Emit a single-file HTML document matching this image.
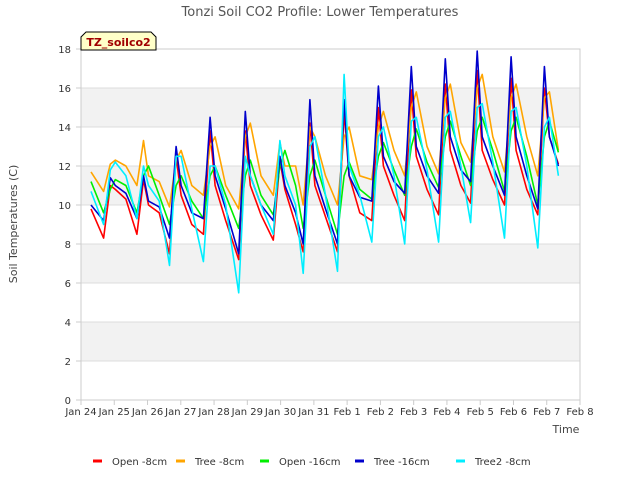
<!DOCTYPE html>
<html><head><meta charset="utf-8"><style>
body{margin:0;background:#fff;font-family:"Liberation Sans",sans-serif}
svg text{font-family:"DejaVu Sans","Liberation Sans",sans-serif}
</style></head><body>
<svg id="c" width="640" height="480" xmlns="http://www.w3.org/2000/svg">
<text x="320" y="16" text-anchor="middle" font-size="13" fill="#555">Tonzi Soil CO2 Profile: Lower Temperatures</text>
<g id="grid"></g>
<g id="series"></g>
<g id="axes"></g>
<g>
<path d="M81,50 L81,37 L86,32 L151,32 L156,37 L156,50 Z" fill="#ffffc8" stroke="#000" stroke-width="1"/>
<text x="118.5" y="46" text-anchor="middle" font-size="11" font-weight="bold" fill="#a00000">TZ_soilco2</text>
</g>
<text transform="translate(17,224) rotate(-90)" text-anchor="middle" font-size="11" fill="#444">Soil Temperatures (C)</text>
<text x="566" y="433" text-anchor="middle" font-size="11" fill="#444">Time</text>
<g id="legend"></g>
</svg>
<script>
const xLabels=["Jan 24","Jan 25","Jan 26","Jan 27","Jan 28","Jan 29","Jan 30","Jan 31","Feb 1","Feb 2","Feb 3","Feb 4","Feb 5","Feb 6","Feb 7","Feb 8"];
const yTicks=[0,2,4,6,8,10,12,14,16,18];
const peaks=[0.9,1.9,2.88,3.9,4.96,6.0,6.9,7.93,8.96,9.95,10.97,11.93,12.95,13.95];
const seriesNames=["Open -8cm","Tree -8cm","Open -16cm","Tree -16cm","Tree2 -8cm"];
const seriesColors=["#ff0000","#ffa500","#00ee00","#0000cc","#00eeff"];
const redVals=[9.8, 8.3,11.0,10.8,10.3, 8.5,11.3,10.0,9.6, 7.5,12.5,10.5,9.0, 8.5,13.8,11.0,9.2, 7.2,13.8,11.0,9.5, 8.2,12.3,10.8,9.0, 7.6,14.2,11.0,9.4, 7.6,14.8,11.5,9.6, 9.2,15.0,12.0,10.5, 9.2,15.9,12.5,10.8, 9.5,16.2,12.8,11.0, 10.1,16.9,12.8,11.3, 10.0,16.5,12.8,10.8, 9.5,16.0,13.5,12.1];
const orangeVals=[11.7, 10.7,12.1,12.3,12.0, 11.0,13.3,11.5,11.2, 9.9,12.3,12.8,11.0, 10.5,13.0,13.5,11.0, 9.8,13.5,14.2,11.5, 10.5,13.2,12.0,12.0, 10.0,14.0,13.5,11.5, 10.0,13.5,14.0,11.5, 11.3,14.0,14.8,12.8, 11.5,15.0,15.8,13.0, 11.6,15.5,16.2,13.2, 12.2,16.0,16.7,13.5, 11.7,15.5,16.2,13.5, 11.5,15.5,15.8,12.8];
const greenVals=[11.2, 9.6,10.8,11.3,11.0, 9.6,11.5,12.0,10.5, 9.0,11.0,11.5,10.2, 9.3,11.5,12.0,10.5, 8.8,11.5,12.3,10.5, 9.5,12.0,12.8,11.0, 8.8,11.5,12.3,10.5, 8.5,11.5,12.2,10.8, 10.3,12.5,13.2,11.8, 10.5,13.0,13.9,12.2, 10.9,13.5,14.3,12.5, 11.0,13.8,14.5,12.8, 10.7,13.8,14.5,12.5, 10.0,13.5,14.3,12.7];
const blueVals=[10.0, 9.2,11.4,11.0,10.6, 9.3,11.5,10.2,9.9, 8.3,13.0,11.0,9.6, 9.3,14.5,11.5,9.8, 7.5,14.8,11.5,10.0, 9.2,12.5,11.0,9.6, 8.0,15.4,11.5,9.8, 8.0,15.4,11.5,10.4, 10.2,16.1,12.5,11.2, 10.6,17.1,13.0,11.5, 10.6,17.5,13.5,11.8, 11.2,17.9,13.5,12.0, 10.5,17.6,13.5,11.5, 9.8,17.1,13.5,12.0];
const cyanVals=[10.7, 9.0,11.8,12.2,11.5, 9.3,12.0,11.0,10.2, 6.9,12.5,12.5,9.8, 7.1,12.0,12.0,10.0, 5.5,12.5,11.5,10.0, 8.5,13.3,11.5,10.0, 6.5,13.0,13.5,10.5, 6.6,16.7,12.0,10.5, 8.1,13.5,14.0,11.5, 8.0,14.3,14.5,11.8, 8.1,14.5,14.8,12.0, 9.1,15.0,15.2,12.2, 8.3,14.8,15.0,12.0, 7.8,14.0,14.5,11.5];
const allVals=[redVals,orangeVals,greenVals,blueVals,cyanVals];
const X0=81,X1=580,Y0=400,Y1=49;
const xs=t=>X0+t*(X1-X0)/15;
const ys=v=>Y0-v*(Y0-Y1)/18;
const NS="http://www.w3.org/2000/svg";
function mk(tag,attrs,parent){const e=document.createElementNS(NS,tag);for(const k in attrs)e.setAttribute(k,attrs[k]);parent.appendChild(e);return e;}
const times=[0.3];
peaks.forEach((p,i)=>{times.push(p-0.22,p-0.02,p+0.13,i===peaks.length-1?14.35:p+0.45);});
const grid=document.getElementById('grid');
for(let v=0;v<18;v+=2){
  if((v/2)%2===1){const r=mk('rect',{x:X0,y:ys(v+2),width:X1-X0,height:ys(v)-ys(v+2),fill:'#f2f2f2'},grid);
  }
}
yTicks.forEach(v=>{const l=mk('line',{x1:X0,x2:X1,y1:ys(v),y2:ys(v),stroke:'#dcdcdc','stroke-width':1},grid);
});
const axes=document.getElementById('axes');
mk('rect',{x:X0,y:Y1,width:X1-X0,height:Y0-Y1,fill:'none',stroke:'#ccc'},axes);
yTicks.forEach(v=>{const t=mk('text',{x:X0-10,y:ys(v)+4,'text-anchor':'end','font-size':10,fill:'#333'},axes);t.textContent=v;

mk('line',{x1:X0-5,x2:X0,y1:ys(v),y2:ys(v),stroke:'#ccc'},axes);});
xLabels.forEach((s,i)=>{const t=mk('text',{x:xs(i),y:Y0+15,'text-anchor':'middle','font-size':10,fill:'#333'},axes);t.textContent=s;

mk('line',{x1:xs(i),x2:xs(i),y1:Y0,y2:Y0+5,stroke:'#ccc'},axes);});
const sg=document.getElementById('series');
allVals.forEach((vals,si)=>{
  const d=vals.map((v,i)=>(i?'L':'M')+xs(times[i]).toFixed(1)+','+ys(v).toFixed(1)).join(' ');
  const p=mk('path',{d:d,fill:'none',stroke:seriesColors[si],'stroke-width':1.6,'stroke-linejoin':'round'},sg);
  
  
});
const lg=document.getElementById('legend');
const lx=[93,176,260,355,456];
seriesNames.forEach((n,i)=>{
  const g=mk('g',{},lg);
  
  
  mk('line',{x1:lx[i],x2:lx[i]+9,y1:461,y2:461,stroke:seriesColors[i],'stroke-width':3},g);
  const t=mk('text',{x:lx[i]+19,y:465,'font-size':10,fill:'#333'},g);t.textContent=n;
});
</script>
</body></html>
